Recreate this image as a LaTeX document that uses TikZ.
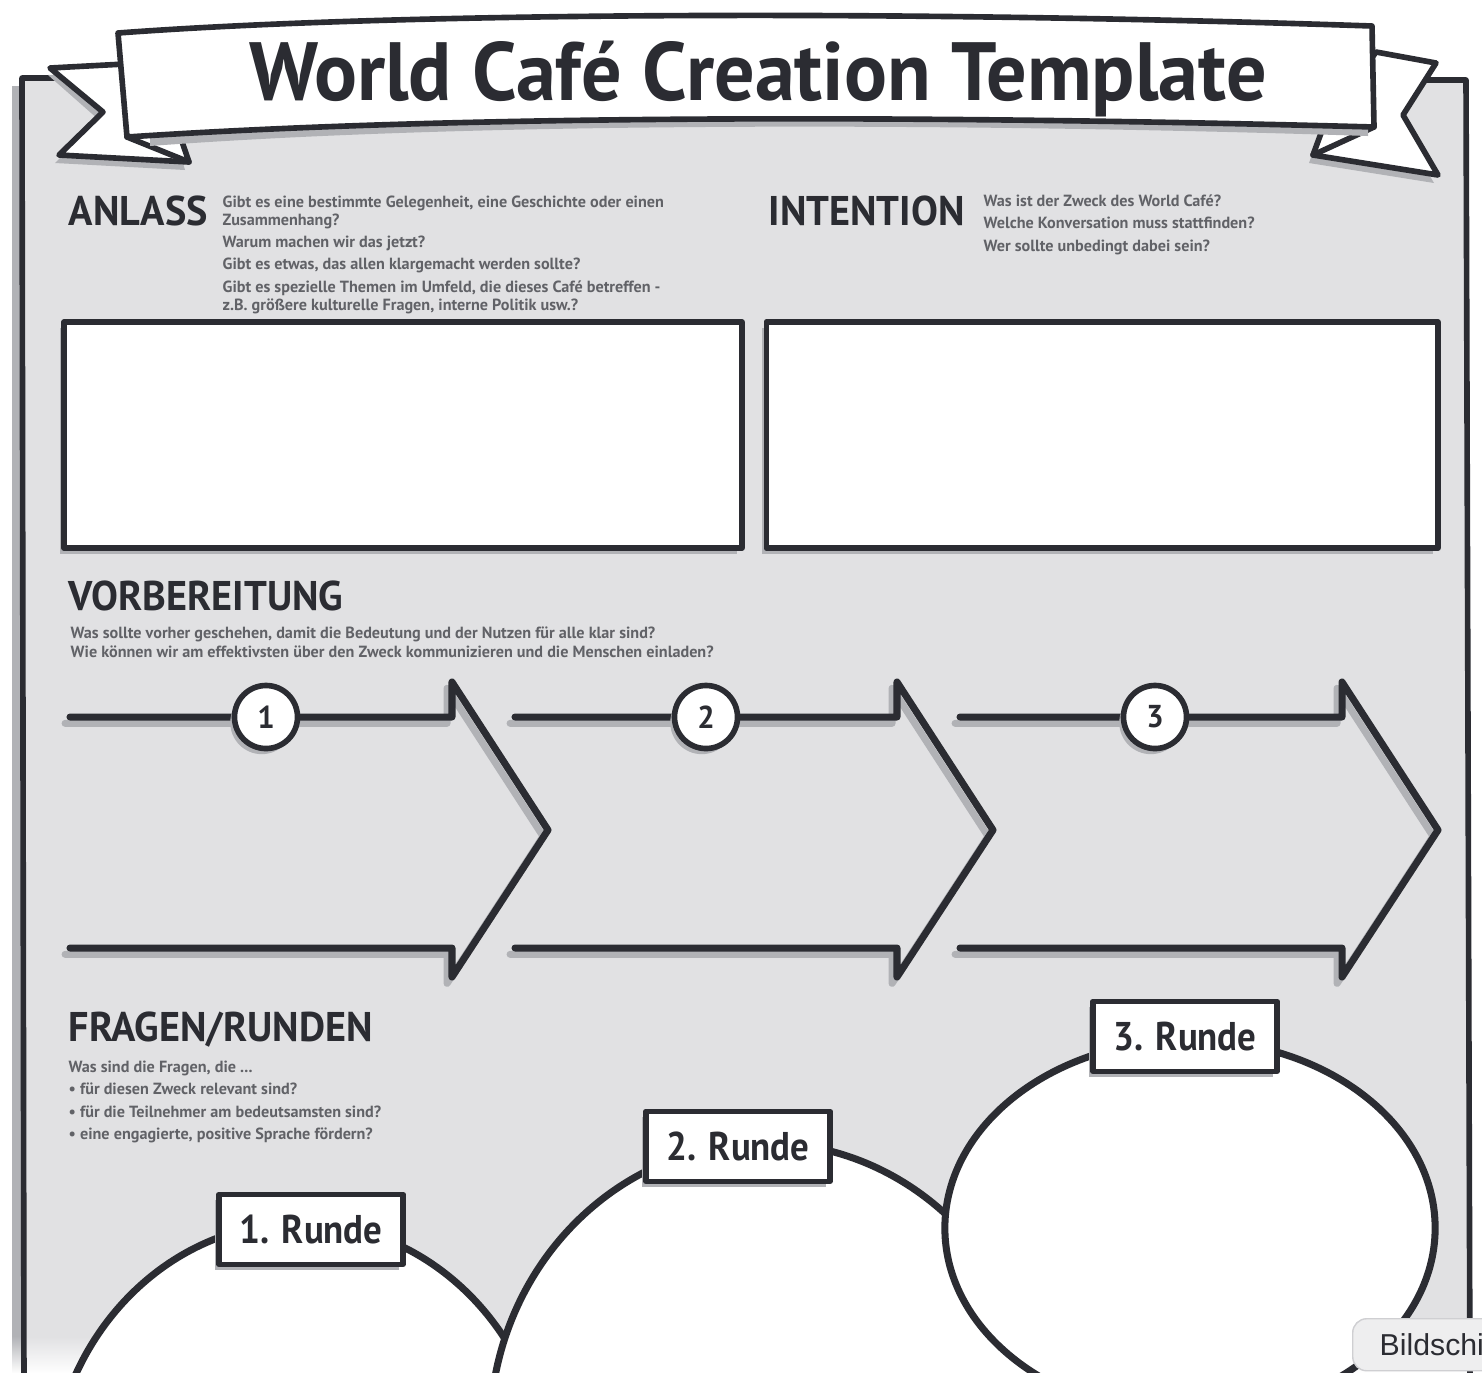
\documentclass[tikz,border=0pt]{standalone}
\usepackage{fontspec}
\setmainfont{PT Sans}
\newfontfamily\titlefont[FakeStretch=0.97]{PT Sans}
\newfontfamily\headfont[FakeStretch=0.97]{PT Sans}
\newfontfamily\labelfont[FakeStretch=0.92]{PT Sans}
\newfontfamily\bodyfont{PT Sans}
\newfontfamily\tipfont{Liberation Sans}
\usepackage{tikz}
\usetikzlibrary{positioning, shapes.geometric, shadows, fadings}
\definecolor{cInk}{HTML}{2B2C32}
\definecolor{cPanel}{HTML}{E1E1E3}
\definecolor{cShade}{HTML}{B1B2B6}
\definecolor{cText}{HTML}{616267}
\definecolor{cTip}{HTML}{EEEEEF}
\definecolor{cTipLine}{HTML}{CFCFD2}
\tikzfading[name=bottomfade, top color=transparent!100, bottom color=transparent!0]
\tikzset{
  ink/.style={draw=cInk, line width=1.6pt, line cap=round, line join=round},
  inkshadow/.style={draw=cShade, line width=1.6pt, line cap=round, line join=round},
  boxshadow/.style={drop shadow={shadow xshift=-1.2pt, shadow yshift=-1.6pt,
                    fill=cShade, opacity=1}},
  headtext/.style={anchor=base west, inner sep=0pt, text=cInk,
                   font=\headfont\bfseries\fontsize{11.8}{14}\selectfont},
  qtext/.style={anchor=north west, inner sep=0pt, align=left, text=cText,
                font=\bodyfont\bfseries\fontsize{4.6}{5.2}\selectfont},
  answerbox/.style={rectangle, ink, fill=white, boxshadow},
  numcircle/.style={circle, ink, fill=white, minimum size=0.63cm, inner sep=0pt,
                    text=cInk, font=\headfont\bfseries\fontsize{9}{9}\selectfont, boxshadow},
  rundering/.style={ellipse, draw=cInk, line width=2pt, fill=white, inner sep=0pt},
  rundelabel/.style={rectangle, ink, fill=white, minimum width=1.84cm,
                     minimum height=0.70cm, inner sep=0pt, text=cInk,
                     font=\labelfont\bfseries\fontsize{11.4}{12}\selectfont, boxshadow},
  tipbox/.style={rectangle, draw=cTipLine, fill=cTip, rounded corners=4pt,
                 anchor=north west, inner xsep=0.27cm, inner ysep=0.05cm,
                 minimum height=0.52cm, text=cInk, font=\tipfont\fontsize{8.6}{10}\selectfont},
}

\begin{document}
\begin{tikzpicture}[x=0.01cm, y=-0.01cm]
  \useasboundingbox (0,0) rectangle (1482,1372);
  \clip (0,0) rectangle (1482,1372);
  \fill[white] (0,0) rectangle (1482,1372);

  % sheet
  \fill[cShade] (12,86) rectangle (1462,1400);
  \fill[cPanel] (22,78) -- (1466,80) -- (1470,1400) -- (24,1400) -- cycle;
  \fill[white, path fading=bottomfade] (0,1336) rectangle (1482,1373);
  \draw[ink] (24,1400) -- (22,78) -- (1466,80) -- (1470,1400);

  % ribbon tails
  \fill[cShade] (48,75) -- (123,71) -- (176,138) -- (185,170) -- (55,163) -- (99,120) -- cycle;
  \draw[ink, fill=white] (50,68) -- (125,64) -- (178,130) -- (189,162) -- (59,155) -- (103,112) -- cycle;
  \draw[ink] (127,137) -- (189,162);
  \fill[cShade] (1372,60) -- (1432,71) -- (1399,123) -- (1434,183) -- (1309,163) -- (1320,133) -- cycle;
  \draw[ink, fill=white] (1376,52) -- (1436,63) -- (1403,115) -- (1438,175) -- (1313,155) -- (1324,125) -- cycle;
  \draw[ink] (1313,155) -- (1374,127);

  % ribbon
  \fill[cShade] (150,146) .. controls (500,120) and (1000,124) .. (1368,136) -- (1368,100) -- (150,100) -- cycle;
  \draw[ink, fill=white] (118,33) .. controls (400,12) and (900,10) .. (1372,26)
    -- (1374,127) .. controls (1000,117) and (500,112) .. (127,137) -- cycle;
  \node[anchor=base, inner sep=0pt, text=cInk,
        font=\titlefont\bfseries\fontsize{23.5}{28}\selectfont] (title) at (758,100)
    {World Café Creation Template};

  % Anlass
  \node[headtext] (anlass) at (68,225) {ANLASS};
  \node[qtext] (anlassq) at (222,195) {%
    Gibt es eine bestimmte Gelegenheit, eine Geschichte oder einen\\
    Zusammenhang?\\[1.1pt]
    Warum machen wir das jetzt?\\[1.1pt]
    Gibt es etwas, das allen klargemacht werden sollte?\\[1.1pt]
    Gibt es spezielle Themen im Umfeld, die dieses Café betreffen -\\
    z.B. größere kulturelle Fragen, interne Politik usw.?};
  \node[answerbox, minimum width=6.77cm, minimum height=2.26cm] (anlassbox) at (403,435) {};

  % Intention
  \node[headtext] (intention) at (768,225) {INTENTION};
  \node[qtext, font=\bodyfont\bfseries\fontsize{4.6}{6.4}\selectfont] (intentionq) at (983,194) {%
    Was ist der Zweck des World Café?\\
    Welche Konversation muss stattfinden?\\
    Wer sollte unbedingt dabei sein?};
  \node[answerbox, minimum width=6.71cm, minimum height=2.26cm] (intentionbox) at (1102,435) {};

  % Vorbereitung
  \node[headtext] (vorbereitung) at (68,610) {VORBEREITUNG};
  \node[qtext, font=\bodyfont\bfseries\fontsize{4.6}{5.4}\selectfont] (vorbereitungq) at (70,626) {%
    Was sollte vorher geschehen, damit die Bedeutung und der Nutzen für alle klar sind?\\
    Wie können wir am effektivsten über den Zweck kommunizieren und die Menschen einladen?};

  \foreach \n/\dx/\cx in {1/0/266, 2/445/706, 3/890/1155} {
    \draw[inkshadow, line width=2pt, shift={(\dx,0)}, xshift=-1.4pt, yshift=-1.8pt]
      (70,717) -- (452,717) -- (452,682) -- (548,830) -- (452,977) -- (452,948) -- (70,948);
    \draw[ink, line width=2pt, shift={(\dx,0)}]
      (70,717) -- (452,717) -- (452,682) -- (548,830) -- (452,977) -- (452,948) -- (70,948);
    \node[numcircle] (num\n) at (\cx,717) {\n};
  }

  % Fragen / Runden
  \node[headtext] (fragen) at (68,1041) {FRAGEN/RUNDEN};
  \node[qtext, font=\bodyfont\bfseries\fontsize{4.6}{6.4}\selectfont] (fragenq) at (68,1060) {%
    Was sind die Fragen, die ...\\
    • für diesen Zweck relevant sind?\\
    • für die Teilnehmer am bedeutsamsten sind?\\
    • eine engagierte, positive Sprache fördern?};

  \node[rundering, minimum width=5cm, minimum height=5.44cm] (runde1) at (300,1495) {};
  \node[rundelabel, xshift=0.11cm, yshift=-0.1cm] (runde1lab) at (runde1.north) {1. Runde};
  \node[rundering, minimum width=5.5cm, minimum height=5.8cm] (runde2) at (765,1433) {};
  \node[rundelabel, xshift=-0.27cm, yshift=-0.07cm] (runde2lab) at (runde2.north) {2. Runde};
  \node[rundering, minimum width=4.9cm, minimum height=3.76cm] (runde3) at (1190,1228) {};
  \node[rundelabel, xshift=-0.05cm] (runde3lab) at (runde3.north) {3. Runde};

  \node[tipbox] (tip) at (1352,1318) {Bildschir};
\end{tikzpicture}
\end{document}
